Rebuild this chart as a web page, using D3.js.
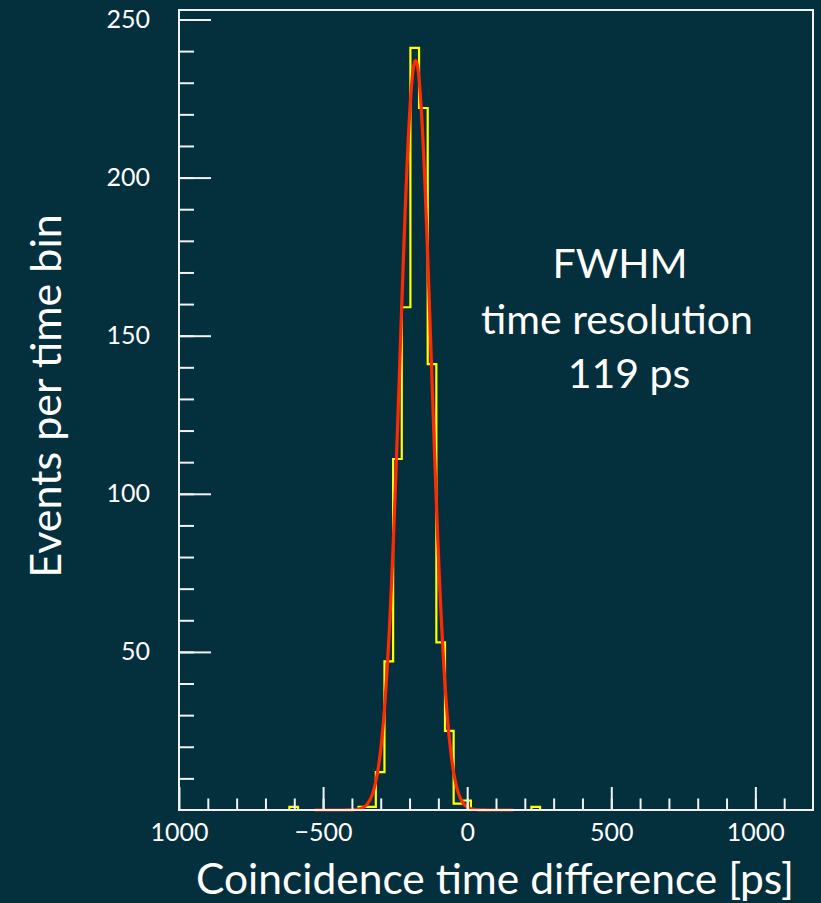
<!DOCTYPE html>
<html lang="en">

<head>
  <meta charset="UTF-8">
  <title>Coincidence time difference</title>
  <script src="https://d3js.org/d3.v7.min.js"></script>
  <style>
    body { margin: 0; background: #04303e; }
    text { font-family: Lato, "Open Sans", sans-serif; fill: #ffffff; }
  </style>
</head>

<body>
  <div id="container"></div>

  <script>
    // histogram: left edge of each non-empty bin [ps] and its count
    var binWidth = 30;
    var binStart = [-617, -377, -347, -317, -287, -257, -227, -197, -167, -137, -107, -77, -47, -17, 223];
    var counts = [1, 1, 1, 12, 47, 111, 159, 241, 222, 141, 53, 25, 2, 3, 1];

    // gaussian fit
    var fitAmp = 237, fitMean = -179, fitSigma = 54;
    var fitRange = [-530, 160];

    var xMajor = [-1000, -500, 0, 500, 1000];
    var xTickLabels = ["1000", "\u2212500", "0", "500", "1000"];
    var yMajor = [50, 100, 150, 200, 250];
    var annotation = ["FWHM", "time resolution", "119 ps"];

    var width = 821, height = 903,
      margin = { left: 179, top: 10, right: 8, bottom: 93 };

    var svg = d3.select("#container")
      .append("svg")
      .attr("width", width)
      .attr("height", height)

    svg.append("rect")
      .attr("width", width)
      .attr("height", height)
      .attr("fill", "#04303e")

    var x = d3.scaleLinear()
      .domain([-1000, 1200])
      .range([margin.left, width - margin.right]);

    var y = d3.scaleLinear()
      .domain([0, 253])
      .range([height - margin.bottom, margin.top]);

    // step outline of the histogram
    var pts = [];
    binStart.forEach(function (s, i) {
      if (i == 0 || binStart[i - 1] + binWidth != s) pts.push([s, 0]);
      pts.push([s, counts[i]]);
      if (i == binStart.length - 1 || binStart[i + 1] != s + binWidth) pts.push([s + binWidth, 0]);
    });

    var step = d3.line()
      .x(function (d) { return x(d[0]); })
      .y(function (d) { return y(d[1]); })
      .curve(d3.curveStepAfter);

    svg.append("path")
      .attr("d", step(pts))
      .attr("fill", "none")
      .attr("stroke", "#ffff00")
      .attr("stroke-width", 2.2)

    // fitted curve
    var fitPts = d3.range(fitRange[0], fitRange[1] + 1, 1).map(function (t) {
      return [t, fitAmp * Math.exp(-0.5 * Math.pow((t - fitMean) / fitSigma, 2))];
    });

    svg.append("path")
      .attr("d", d3.line()
        .x(function (d) { return x(d[0]); })
        .y(function (d) { return y(d[1]); })(fitPts))
      .attr("fill", "none")
      .attr("stroke", "#ff2a00")
      .attr("stroke-width", 3.2)

    // axes, ticks point inward
    var axisColor = "#f2f2f2";
    var bottom = height - margin.bottom;

    var gxMinor = svg.append("g")
      .attr("transform", "translate(0," + bottom + ")")
      .call(d3.axisBottom(x).tickValues(d3.range(-900, 1200, 100)).tickSize(-11.5).tickFormat(""));

    var gx = svg.append("g")
      .attr("transform", "translate(0," + bottom + ")")
      .call(d3.axisBottom(x).tickValues(xMajor).tickSize(-23).tickPadding(13)
        .tickFormat(function (d, i) { return xTickLabels[i]; }));

    var gyMinor = svg.append("g")
      .attr("transform", "translate(" + margin.left + ",0)")
      .call(d3.axisLeft(y).tickValues(d3.range(10, 251, 10)).tickSize(-15).tickFormat(""));

    var gy = svg.append("g")
      .attr("transform", "translate(" + margin.left + ",0)")
      .call(d3.axisLeft(y).tickValues(yMajor).tickSize(-32).tickPadding(29));

    [gxMinor, gx, gyMinor, gy].forEach(function (g) {
      g.select(".domain").remove();
      g.selectAll("line").attr("stroke", axisColor).attr("stroke-width", 2);
      g.selectAll("text").attr("font-size", 25).attr("fill", "#ffffff").attr("font-family", "Lato");
    });

    // frame
    svg.append("rect")
      .attr("x", margin.left)
      .attr("y", margin.top)
      .attr("width", width - margin.right - margin.left)
      .attr("height", bottom - margin.top)
      .attr("fill", "none")
      .attr("stroke", axisColor)
      .attr("stroke-width", 2)

    // titles
    svg.append("text")
      .attr("x", 495)
      .attr("y", 894)
      .attr("text-anchor", "middle")
      .attr("font-size", 42.5)
      .text("Coincidence time difference [ps]")

    svg.append("text")
      .attr("transform", "translate(61,396) rotate(-90)")
      .attr("text-anchor", "middle")
      .attr("font-size", 43)
      .text("Events per time bin")

    var annX = [620, 617, 629],
      annY = [278, 334, 388];
    svg.selectAll(".ann")
      .data(annotation)
      .enter()
      .append("text")
      .attr("class", "ann")
      .attr("x", function (d, i) { return annX[i]; })
      .attr("y", function (d, i) { return annY[i]; })
      .attr("text-anchor", "middle")
      .attr("font-size", 41)
      .text(function (d) { return d; })
  </script>
</body>

</html>
